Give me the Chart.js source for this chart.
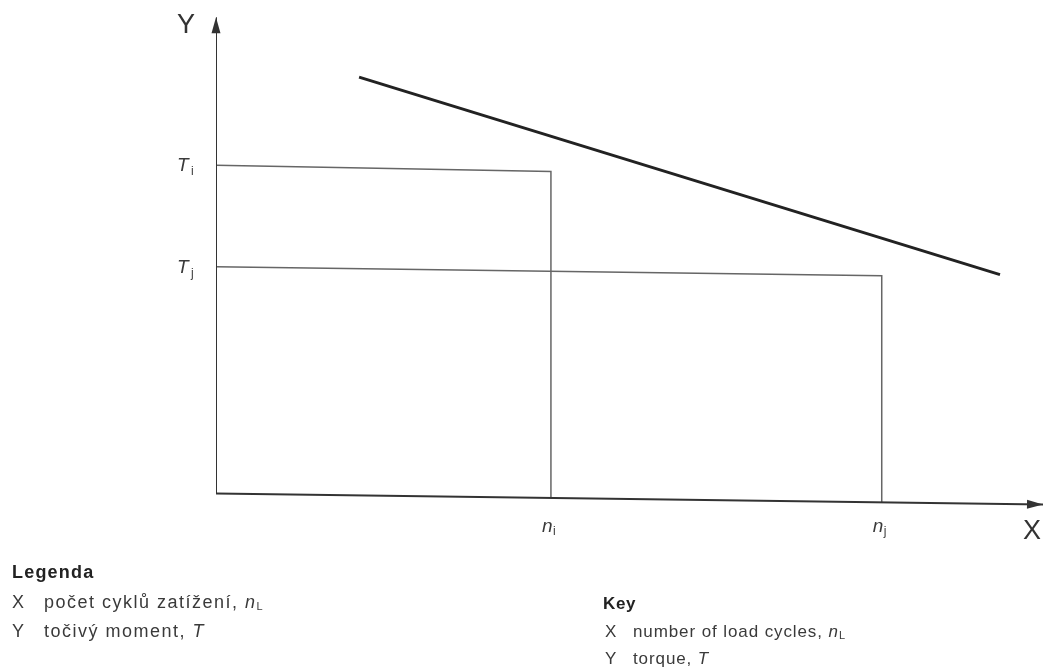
<!DOCTYPE html>
<html>
<head>
<meta charset="utf-8">
<script src="https://cdn.jsdelivr.net/npm/chart.js@4"></script>
<style>
  body { margin: 0; background: #fff; }
  #wrap { position: relative; width: 1046px; height: 668px; }
  #chart { position: absolute; left: 0; top: 0; }
  .key { position: absolute; font-family: "Liberation Sans", Arial, sans-serif; font-size: 17px;
         color: #3a3a3a; white-space: nowrap; line-height: 20px; letter-spacing: 0.9px; }
  .key.cz { font-size: 18px; letter-spacing: 1.5px; }
  .key b { font-weight: bold; color: #222; letter-spacing: 0.6px; }
  .key.cz b { letter-spacing: 1.2px; }
  .key .sym { display: inline-block; width: 28px; letter-spacing: 0; }
  .key.cz .sym { width: 32px; }
  .key i { font-style: italic; }
  .key sub { font-size: 11px; vertical-align: -2px; letter-spacing: 0; }
</style>
</head>
<body>
<div id="wrap">
  <canvas id="chart" width="1046" height="668"></canvas>
  <div class="key cz" style="left:12px; top:562px;"><b>Legenda</b></div>
  <div class="key cz" style="left:12px; top:592px;"><span class="sym">X</span>počet cyklů zatížení, <i>n</i><sub>L</sub></div>
  <div class="key cz" style="left:12px; top:621px;"><span class="sym">Y</span>točivý moment, <i>T</i></div>
  <div class="key" style="left:603px; top:594px;"><b>Key</b></div>
  <div class="key" style="left:605px; top:622px;"><span class="sym">X</span>number of load cycles, <i>n</i><sub>L</sub></div>
  <div class="key" style="left:605px; top:649px;"><span class="sym">Y</span>torque, <i>T</i></div>
</div>
<script>
// schematic values (arbitrary units: x = load cycles, y = torque)
const xAxisX = [0, 100];
const xAxisY = [0, -2.3];
const yAxisX = [0, 0];
const yAxisY = [0, 100.5];

const highX = [0, 40.5, 40.5];
const highY = [69.3, 68.0, -1.0];
const lowX = [0, 80.5, 80.5];
const lowY = [47.9, 46.0, -1.9];

const curveX = [17.3, 94.8];
const curveY = [87.9, 46.2];

const xTickValues = [40.5, 80.5];
const xTickSubs = ["i", "j"];
const yTickValues = [69.3, 47.9];
const yTickSubs = ["i", "j"];

const pts = (xs, ys) => xs.map((x, i) => ({ x: x, y: ys[i] }));

// arrowheads on the axis lines + tick and axis labels
const diagramPlugin = {
    id: "diagram",
    afterDatasetsDraw(chart) {
        const ctx = chart.ctx;
        const xs = chart.scales.x;
        const ys = chart.scales.y;

        chart.data.datasets.forEach((ds, i) => {
            if (!ds.arrow) return;
            const meta = chart.getDatasetMeta(i).data;
            const a = meta[meta.length - 2], b = meta[meta.length - 1];
            const ang = Math.atan2(b.y - a.y, b.x - a.x);
            ctx.save();
            ctx.translate(b.x, b.y);
            ctx.rotate(ang);
            ctx.fillStyle = "#333";
            ctx.beginPath();
            ctx.moveTo(0, 0);
            ctx.lineTo(-16, -4.5);
            ctx.lineTo(-16, 4.5);
            ctx.closePath();
            ctx.fill();
            ctx.restore();
        });

        ctx.save();
        ctx.fillStyle = "#3a3a3a";
        ctx.textBaseline = "alphabetic";
        ctx.textAlign = "left";

        // torque ticks
        yTickValues.forEach((v, i) => {
            const py = ys.getPixelForValue(v);
            const px = xs.getPixelForValue(0);
            ctx.font = "italic 19px 'Liberation Sans', Arial, sans-serif";
            ctx.fillText("T", px - 39, py + 6);
            ctx.font = "12px 'Liberation Sans', Arial, sans-serif";
            ctx.fillText(yTickSubs[i], px - 25, py + 10);
        });

        // load cycle ticks
        xTickValues.forEach((v, i) => {
            const px = xs.getPixelForValue(v);
            const py = ys.getPixelForValue(0);
            ctx.font = "italic 19px 'Liberation Sans', Arial, sans-serif";
            ctx.fillText("n", px - 9, py + 38);
            ctx.font = "12px 'Liberation Sans', Arial, sans-serif";
            ctx.fillText(xTickSubs[i], px + 2, py + 41);
        });

        // axis names
        ctx.fillStyle = "#333";
        ctx.font = "27px 'Liberation Sans', Arial, sans-serif";
        ctx.textAlign = "center";
        ctx.textBaseline = "middle";
        ctx.fillText("Y", xs.getPixelForValue(0) - 30, ys.getPixelForValue(100) + 6);
        ctx.fillText("X", xs.getPixelForValue(100) - 11, ys.getPixelForValue(0) + 38);
        ctx.restore();
    }
};

const ctx = document.getElementById("chart").getContext("2d");
new Chart(ctx, {
    type: "scatter",
    data: {
        datasets: [
            { data: pts(xAxisX, xAxisY), borderColor: "#333", borderWidth: 2, arrow: true },
            { data: pts(yAxisX, yAxisY), borderColor: "#333", borderWidth: 2, arrow: true },
            { data: pts(highX, highY), borderColor: "#666", borderWidth: 1.5 },
            { data: pts(lowX, lowY), borderColor: "#666", borderWidth: 1.5 },
            { data: pts(curveX, curveY), borderColor: "#222", borderWidth: 3 }
        ].map(ds => Object.assign(ds, { showLine: true, pointRadius: 0, fill: false, tension: 0 }))
    },
    options: {
        responsive: false,
        animation: false,
        layout: { padding: { left: 216, right: 3, top: 15, bottom: 127 } },
        plugins: { legend: { display: false }, tooltip: { enabled: false } },
        scales: {
            x: { type: "linear", min: 0, max: 100, display: false },
            y: { type: "linear", min: -10, max: 101, display: false }
        }
    },
    plugins: [diagramPlugin]
});
</script>
</body>
</html>
